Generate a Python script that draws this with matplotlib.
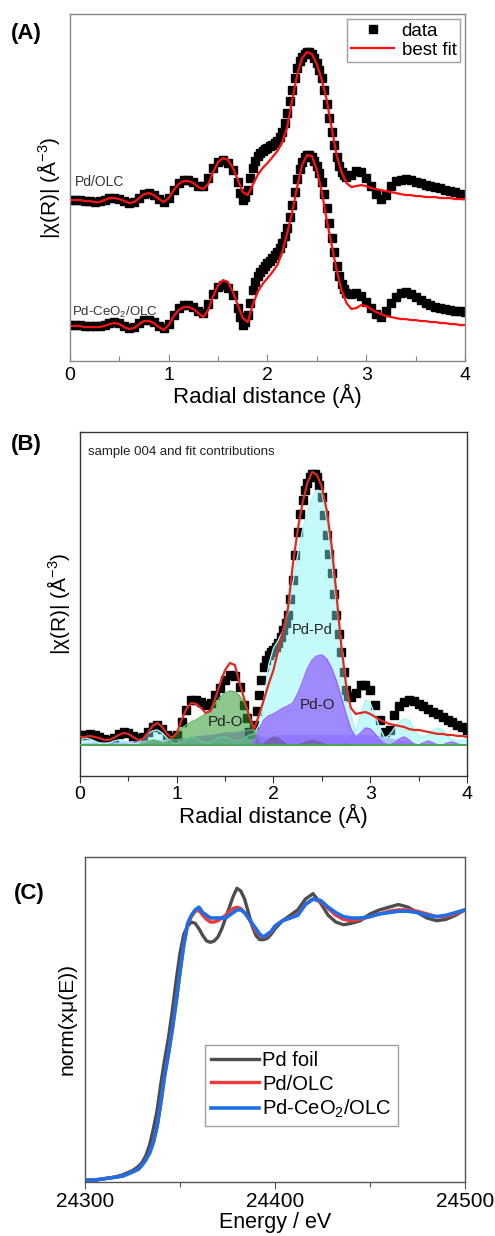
import numpy as np
import matplotlib
matplotlib.use("Agg")
import matplotlib.pyplot as plt

plt.rcParams['font.family'] = ['Liberation Sans', 'DejaVu Sans']
plt.rcParams['mathtext.fontset'] = 'custom'
plt.rcParams['mathtext.rm'] = 'Liberation Sans'
plt.rcParams['mathtext.it'] = 'Liberation Sans:italic'

# ---------------- data (arbitrary units) ----------------
R = np.round(np.arange(0, 4.001, 0.05), 2)
# the measured points are denser than 0.05; extra readings on the steep part
R_mid = np.round(np.arange(1.725, 2.78, 0.05), 3)

# panel A
olc_data = [1.61, 1.61, 1.61, 1.60, 1.60, 1.59, 1.60, 1.61, 1.63, 1.63,
            1.62, 1.60, 1.58, 1.59, 1.63, 1.67, 1.68, 1.66, 1.62, 1.59,
            1.63, 1.71, 1.78, 1.81, 1.81, 1.79, 1.75, 1.75, 1.83, 1.93,
            1.99, 2.01, 1.98, 1.91, 1.79, 1.61, 1.71, 1.93, 2.05, 2.10,
            2.13, 2.16, 2.20, 2.29, 2.48, 2.71, 2.93, 3.04, 3.09, 3.07,
            2.98, 2.83, 2.57, 2.29, 2.04, 1.89, 1.84, 1.86, 1.90, 1.89,
            1.83, 1.75, 1.67, 1.62, 1.66, 1.75, 1.80, 1.81, 1.82, 1.81,
            1.79, 1.78, 1.76, 1.75, 1.74, 1.73, 1.71, 1.70, 1.69, 1.67,
            1.66]
olc_data_mid = [1.68, 1.64, 1.83, 2.00, 2.08, 2.12, 2.15, 2.18, 2.24, 2.38,
                2.60, 2.83, 3.00, 3.07, 3.09, 3.03, 2.91, 2.71, 2.43, 2.16,
                1.95, 1.86]
olc_fit = [1.61, 1.61, 1.61, 1.60, 1.60, 1.59, 1.59, 1.61, 1.63, 1.63,
           1.62, 1.60, 1.58, 1.59, 1.63, 1.67, 1.68, 1.66, 1.62, 1.59,
           1.63, 1.71, 1.77, 1.80, 1.80, 1.78, 1.74, 1.72, 1.77, 1.89,
           1.99, 2.03, 2.01, 1.93, 1.81, 1.69, 1.66, 1.76, 1.86, 1.93,
           1.98, 2.04, 2.10, 2.19, 2.34, 2.61, 2.86, 3.03, 3.09, 3.07,
           2.97, 2.81, 2.61, 2.33, 2.06, 1.89, 1.78, 1.74, 1.75, 1.76,
           1.75, 1.73, 1.72, 1.71, 1.70, 1.69, 1.68, 1.67, 1.66, 1.66,
           1.65, 1.65, 1.64, 1.64, 1.64, 1.63, 1.63, 1.63, 1.62, 1.62,
           1.62]
ceo2_data = [0.36, 0.36, 0.36, 0.35, 0.35, 0.35, 0.35, 0.36, 0.38, 0.39,
             0.38, 0.35, 0.33, 0.34, 0.38, 0.41, 0.41, 0.39, 0.35, 0.33,
             0.37, 0.46, 0.53, 0.56, 0.56, 0.54, 0.50, 0.48, 0.57, 0.67,
             0.74, 0.76, 0.73, 0.66, 0.53, 0.36, 0.46, 0.71, 0.85, 0.92,
             0.98, 1.03, 1.09, 1.18, 1.33, 1.56, 1.82, 1.99, 2.06, 2.04,
             1.95, 1.79, 1.53, 1.23, 0.95, 0.77, 0.68, 0.67, 0.68, 0.65,
             0.59, 0.53, 0.47, 0.44, 0.50, 0.58, 0.64, 0.68, 0.69, 0.67,
             0.64, 0.61, 0.58, 0.56, 0.54, 0.53, 0.52, 0.51, 0.50, 0.50,
             0.49]
ceo2_data_mid = [0.44, 0.39, 0.58, 0.79, 0.89, 0.95, 1.00, 1.06, 1.13, 1.25,
                 1.44, 1.69, 1.92, 2.04, 2.06, 2.00, 1.88, 1.67, 1.38, 1.09,
                 0.85, 0.72]
ceo2_fit = [0.35, 0.35, 0.35, 0.34, 0.34, 0.34, 0.34, 0.35, 0.37, 0.38,
            0.37, 0.34, 0.32, 0.33, 0.37, 0.40, 0.40, 0.38, 0.34, 0.31,
            0.36, 0.45, 0.51, 0.54, 0.54, 0.52, 0.48, 0.44, 0.51, 0.65,
            0.76, 0.81, 0.79, 0.69, 0.56, 0.43, 0.39, 0.56, 0.69, 0.77,
            0.83, 0.89, 0.96, 1.09, 1.28, 1.49, 1.74, 1.96, 2.06, 2.05,
            1.91, 1.69, 1.41, 1.16, 0.91, 0.71, 0.58, 0.52, 0.53, 0.56,
            0.55, 0.52, 0.49, 0.47, 0.45, 0.44, 0.43, 0.42, 0.42, 0.41,
            0.41, 0.40, 0.40, 0.39, 0.39, 0.38, 0.38, 0.37, 0.37, 0.36,
            0.36]

# panel B (sample 004)
s004_data = [0.41, 0.41, 0.42, 0.41, 0.39, 0.37, 0.36, 0.38, 0.42, 0.44,
             0.43, 0.40, 0.38, 0.39, 0.44, 0.49, 0.51, 0.47, 0.41, 0.39,
             0.41, 0.54, 0.66, 0.76, 0.76, 0.74, 0.71, 0.73, 0.81, 0.88,
             0.96, 1.01, 1.00, 0.89, 0.71, 0.44, 0.51, 0.81, 1.09, 1.21,
             1.26, 1.33, 1.46, 1.61, 1.96, 2.44, 2.76, 2.93, 3.02, 2.99,
             2.79, 2.41, 2.03, 1.61, 1.24, 0.86, 0.79, 0.83, 0.91, 0.91,
             0.86, 0.71, 0.56, 0.44, 0.46, 0.61, 0.70, 0.74, 0.76, 0.75,
             0.72, 0.70, 0.67, 0.64, 0.62, 0.59, 0.56, 0.54, 0.51, 0.49,
             0.46]
s004_data_mid = [0.58, 0.42, 0.65, 0.96, 1.16, 1.24, 1.29, 1.39, 1.53, 1.77,
                 2.21, 2.62, 2.86, 2.99, 3.02, 2.91, 2.61, 2.22, 1.82, 1.42,
                 1.04, 0.80]
s004_fit = [0.39, 0.39, 0.40, 0.39, 0.38, 0.36, 0.36, 0.38, 0.41, 0.43,
            0.42, 0.39, 0.36, 0.37, 0.43, 0.50, 0.53, 0.49, 0.42, 0.38,
            0.43, 0.56, 0.67, 0.73, 0.72, 0.68, 0.63, 0.65, 0.78, 0.93,
            1.06, 1.13, 1.11, 0.93, 0.76, 0.60, 0.47, 0.61, 0.76, 0.92,
            1.06, 1.26, 1.46, 1.68, 2.11, 2.46, 2.73, 2.93, 3.04, 3.01,
            2.89, 2.66, 2.31, 1.83, 1.31, 0.91, 0.68, 0.62, 0.63, 0.64,
            0.62, 0.59, 0.56, 0.54, 0.52, 0.51, 0.50, 0.49, 0.47, 0.46,
            0.46, 0.45, 0.44, 0.43, 0.42, 0.42, 0.41, 0.41, 0.40, 0.40,
            0.39]
base_004 = 0.31
pdpd = [0.36, 0.38, 0.37, 0.35, 0.33, 0.32, 0.33, 0.35, 0.36, 0.35,
        0.33, 0.32, 0.33, 0.37, 0.42, 0.45, 0.46, 0.43, 0.38, 0.34,
        0.32, 0.34, 0.37, 0.39, 0.38, 0.35, 0.33, 0.34, 0.37, 0.39,
        0.39, 0.37, 0.35, 0.35, 0.38, 0.41, 0.42, 0.51, 0.76, 1.11,
        1.28, 1.36, 1.46, 1.64, 1.93, 2.21, 2.46, 2.63, 2.78, 2.86,
        2.84, 2.56, 2.16, 1.71, 1.36, 0.96, 0.61, 0.44, 0.61, 0.76,
        0.73, 0.61, 0.48, 0.38, 0.41, 0.48, 0.54, 0.57, 0.56, 0.48,
        0.41, 0.38, 0.42, 0.46, 0.48, 0.46, 0.40, 0.36, 0.35, 0.36,
        0.36]
pdo_1 = [0.31, 0.31, 0.31, 0.31, 0.31, 0.31, 0.31, 0.31, 0.31, 0.31,
         0.31, 0.31, 0.31, 0.32, 0.34, 0.36, 0.35, 0.33, 0.34, 0.38,
         0.43, 0.48, 0.51, 0.54, 0.56, 0.59, 0.62, 0.66, 0.73, 0.79,
         0.83, 0.85, 0.84, 0.80, 0.73, 0.60, 0.46, 0.34, 0.31, 0.31,
         0.31, 0.31, 0.31, 0.31, 0.31, 0.31, 0.31, 0.31, 0.31, 0.31,
         0.31, 0.31, 0.31, 0.31, 0.31, 0.31, 0.31, 0.31, 0.31, 0.31,
         0.31, 0.31, 0.31, 0.31, 0.31, 0.31, 0.31, 0.31, 0.31, 0.31,
         0.31, 0.31, 0.31, 0.31, 0.31, 0.31, 0.31, 0.31, 0.31, 0.31,
         0.31]
pdo_2 = [0.31, 0.31, 0.31, 0.31, 0.31, 0.31, 0.31, 0.31, 0.31, 0.31,
         0.31, 0.31, 0.31, 0.31, 0.31, 0.31, 0.31, 0.31, 0.31, 0.31,
         0.31, 0.31, 0.31, 0.31, 0.31, 0.31, 0.31, 0.31, 0.31, 0.31,
         0.31, 0.31, 0.31, 0.31, 0.31, 0.31, 0.33, 0.46, 0.56, 0.60,
         0.62, 0.65, 0.68, 0.70, 0.73, 0.82, 0.94, 1.07, 1.16, 1.20,
         1.21, 1.17, 1.08, 0.95, 0.79, 0.62, 0.47, 0.39, 0.43, 0.48,
         0.47, 0.42, 0.36, 0.32, 0.31, 0.33, 0.37, 0.39, 0.36, 0.32,
         0.31, 0.33, 0.35, 0.33, 0.31, 0.31, 0.33, 0.34, 0.32, 0.31,
         0.31]
pdo_wide = [0.31, 0.32, 0.32, 0.33, 0.33, 0.33, 0.33, 0.33, 0.33, 0.33,
            0.34, 0.34, 0.34, 0.34, 0.35, 0.35, 0.35, 0.35, 0.36, 0.36,
            0.36, 0.37, 0.37, 0.38, 0.39, 0.39, 0.40, 0.40, 0.41, 0.42,
            0.43, 0.43, 0.43, 0.44, 0.45, 0.46, 0.46, 0.40, 0.38, 0.38,
            0.39, 0.40, 0.40, 0.40, 0.40, 0.40, 0.40, 0.40, 0.40, 0.40,
            0.40, 0.40, 0.40, 0.40, 0.40, 0.40, 0.40, 0.40, 0.40, 0.40,
            0.40, 0.40, 0.39, 0.38, 0.37, 0.36, 0.35, 0.34, 0.33, 0.32,
            0.31, 0.31, 0.31, 0.31, 0.31, 0.31, 0.31, 0.31, 0.31, 0.31,
            0.31]
pd_c = [0.31, 0.31, 0.31, 0.31, 0.31, 0.31, 0.31, 0.31, 0.31, 0.31,
        0.31, 0.31, 0.31, 0.31, 0.31, 0.31, 0.31, 0.31, 0.31, 0.31,
        0.31, 0.31, 0.31, 0.31, 0.31, 0.31, 0.31, 0.31, 0.31, 0.31,
        0.31, 0.31, 0.31, 0.31, 0.31, 0.31, 0.31, 0.31, 0.34, 0.38,
        0.40, 0.39, 0.35, 0.32, 0.31, 0.32, 0.34, 0.36, 0.37, 0.36,
        0.34, 0.32, 0.31, 0.31, 0.32, 0.33, 0.32, 0.31, 0.31, 0.31,
        0.31, 0.31, 0.31, 0.31, 0.31, 0.31, 0.31, 0.31, 0.31, 0.31,
        0.31, 0.31, 0.31, 0.31, 0.31, 0.31, 0.31, 0.31, 0.31, 0.31,
        0.31]

# panel C (XANES)
energy = [24300, 24305, 24310, 24315, 24320, 24325, 24328,
          24330, 24332, 24334, 24336, 24338, 24340, 24342, 24344, 24346, 24348,
          24350, 24352, 24354, 24356, 24358, 24360, 24362, 24364, 24366, 24368,
          24370, 24372, 24374, 24376, 24378, 24380, 24382, 24384, 24386, 24388,
          24390, 24392, 24394, 24396, 24398, 24400,
          24404, 24408, 24412, 24416, 24420, 24424, 24428, 24432, 24436, 24440,
          24445, 24450, 24455, 24460, 24465, 24470, 24475, 24480, 24485, 24490,
          24495, 24500]
mu_foil = [0.00, 0.00, 0.005, 0.01, 0.02, 0.035, 0.05,
           0.065, 0.09, 0.13, 0.19, 0.26, 0.36, 0.45, 0.53, 0.63, 0.74,
           0.84, 0.91, 0.94, 0.955, 0.95, 0.93, 0.905, 0.885, 0.88, 0.885,
           0.90, 0.93, 0.97, 1.01, 1.05, 1.08, 1.07, 1.04, 0.99, 0.94,
           0.905, 0.89, 0.89, 0.895, 0.91, 0.93,
           0.96, 0.98, 1.00, 1.04, 1.06, 1.025, 0.98, 0.955, 0.945, 0.95,
           0.96, 0.985, 1.00, 1.01, 1.02, 1.01, 0.99, 0.97, 0.96, 0.965,
           0.98, 1.00]
mu_olc = [0.00, 0.00, 0.005, 0.01, 0.015, 0.03, 0.04,
          0.055, 0.075, 0.10, 0.14, 0.20, 0.29, 0.39, 0.47, 0.56, 0.66,
          0.77, 0.87, 0.945, 0.975, 0.995, 0.998, 0.98, 0.965, 0.955, 0.955,
          0.96, 0.97, 0.98, 0.995, 1.005, 1.01, 1.005, 0.99, 0.97, 0.945,
          0.92, 0.905, 0.90, 0.905, 0.92, 0.94,
          0.96, 0.97, 0.985, 1.02, 1.04, 1.03, 1.005, 0.98, 0.965, 0.96,
          0.965, 0.975, 0.985, 0.995, 1.00, 1.00, 0.995, 0.985, 0.975, 0.975,
          0.985, 1.00]
mu_ceo2 = [0.00, 0.00, 0.005, 0.01, 0.015, 0.03, 0.04,
           0.055, 0.075, 0.10, 0.14, 0.20, 0.29, 0.39, 0.47, 0.56, 0.66,
           0.77, 0.87, 0.95, 0.98, 1.00, 1.01, 0.99, 0.98, 0.97, 0.97,
           0.97, 0.97, 0.97, 0.98, 0.99, 1.00, 1.00, 0.99, 0.97, 0.95,
           0.93, 0.91, 0.90, 0.91, 0.92, 0.94,
           0.96, 0.97, 0.98, 1.02, 1.04, 1.035, 1.01, 0.99, 0.975, 0.97,
           0.97, 0.975, 0.985, 0.99, 0.995, 0.995, 0.99, 0.98, 0.975, 0.98,
           0.99, 1.00]

ylab_r = r'|χ(R)| (Å$^{-3}$)'


def style_axes(ax, spine_color, tdir='out', labelsize=14):
    for s in ax.spines.values():
        s.set_color(spine_color)
        s.set_linewidth(1.0)
    ax.set_yticks([])
    ax.tick_params(axis='x', which='major', direction=tdir, length=5,
                   width=0.8, labelsize=labelsize, color=spine_color, pad=2)
    ax.tick_params(axis='x', which='minor', direction=tdir, length=3.5,
                   width=0.8, color=spine_color)


fig = plt.figure(figsize=(4.95, 12.36), dpi=100)

# ---------------- (A) ----------------
axA = fig.add_axes([0.1414, 0.7079, 0.798, 0.2807])
axA.plot(R, olc_data, 's', color='black', ms=6, label='data')
axA.plot(R_mid, olc_data_mid, 's', color='black', ms=6)
axA.plot(R, olc_fit, '-', color='#ff1010', lw=1.6, label='best fit')
axA.plot(R, ceo2_data, 's', color='black', ms=6)
axA.plot(R_mid, ceo2_data_mid, 's', color='black', ms=6)
axA.plot(R, ceo2_fit, '-', color='#ff1010', lw=1.6)
axA.set_xlim(0, 4)
axA.set_ylim(0, 3.47)
axA.set_xticks([0, 1, 2, 3, 4])
axA.set_xticks([0.5, 1.5, 2.5, 3.5], minor=True)
style_axes(axA, '#888888', tdir='in')
axA.tick_params(axis='x', which='major', pad=4)
axA.set_xlabel('Radial distance (Å)', fontsize=16, labelpad=0)
axA.set_ylabel(ylab_r, fontsize=15, labelpad=6)
axA.text(0.05, 1.79, 'Pd/OLC', fontsize=10, color='#333333', va='center')
axA.text(0.02, 0.49, 'Pd-CeO$_2$/OLC', fontsize=9.5, color='#333333',
         va='center')
legA = axA.legend(loc='upper right', fontsize=13.5, frameon=True,
                  fancybox=False, edgecolor='#888888', borderaxespad=0.25,
                  handlelength=2.3, labelspacing=0.1, borderpad=0.2,
                  handletextpad=0.4)
legA.get_frame().set_linewidth(1.0)

# ---------------- (B) ----------------
axB = fig.add_axes([0.1616, 0.3722, 0.7818, 0.2783])
axB.plot(R, s004_data, 's', color='black', ms=6, zorder=1)
axB.plot(R_mid, s004_data_mid, 's', color='black', ms=6, zorder=1)
axB.fill_between(R, base_004, pdo_wide, color='#8a4dff', alpha=0.55,
                 lw=0, zorder=2)
axB.plot(R, pdo_wide, color='#b79cff', lw=1.0, zorder=2)
axB.fill_between(R, base_004, pdpd, color='#80f4f4', alpha=0.45,
                 lw=0, zorder=2)
axB.plot(R, pdpd, color='#a8f6f6', lw=1.0, zorder=2)
axB.fill_between(R, base_004, pdo_1, color='#2f9a2f', alpha=0.55,
                 lw=0, zorder=3)
axB.plot(R, pdo_1, color='#5cb85c', lw=1.0, zorder=3)
axB.fill_between(R, base_004, pdo_2, color='#8a4dff', alpha=0.65,
                 lw=0, zorder=3)
axB.plot(R, pdo_2, color='#9a66ff', lw=1.0, zorder=3)
axB.fill_between(R, base_004, pd_c, color='#444444', alpha=0.35,
                 lw=0, zorder=3)
axB.axhline(base_004, color='#3fae3f', lw=1.2, zorder=3)
axB.plot(R, s004_fit, '-', color='#e02a20', lw=1.6, zorder=4)
axB.set_xlim(0, 4)
axB.set_ylim(0, 3.44)
axB.set_xticks([0, 1, 2, 3, 4])
axB.set_xticks([0.5, 1.5, 2.5, 3.5], minor=True)
style_axes(axB, '#333333')
axB.set_xlabel('Radial distance (Å)', fontsize=16, labelpad=1)
axB.set_ylabel(ylab_r, fontsize=15, labelpad=6)
axB.text(0.08, 3.24, 'sample 004 and fit contributions', fontsize=9.5,
         color='#222222', va='center')
axB.text(2.40, 1.46, 'Pd-Pd', fontsize=10.5, color='#222222', ha='center',
         va='center', zorder=5)
axB.text(1.50, 0.54, 'Pd-O', fontsize=11, color='#222222', ha='center',
         va='center', zorder=5)
axB.text(2.46, 0.71, 'Pd-O', fontsize=11, color='#222222', ha='center',
         va='center', zorder=5)

# ---------------- (C) ----------------
axC = fig.add_axes([0.1717, 0.0437, 0.7677, 0.263])
axC.plot(energy, mu_foil, color='#4d4d4d', lw=2.4, label='Pd foil')
axC.plot(energy, mu_olc, color='#f03838', lw=2.4, label='Pd/OLC')
axC.plot(energy, mu_ceo2, color='#1e6fe6', lw=2.6,
         label='Pd-CeO$_2$/OLC')
axC.set_xlim(24300, 24500)
axC.set_ylim(-0.007, 1.196)
axC.set_xticks([24300, 24400, 24500])
axC.set_xticks([24350, 24450], minor=True)
style_axes(axC, '#555555', labelsize=15)
axC.set_xlabel('Energy / eV', fontsize=15.5, labelpad=1)
axC.set_ylabel('norm(xμ(E))', fontsize=15, labelpad=6)
legC = axC.legend(loc='upper left', bbox_to_anchor=(0.316, 0.42),
                  fontsize=14.5, frameon=True, fancybox=False,
                  edgecolor='#888888', handlelength=2.4, labelspacing=0.2,
                  borderpad=0.3, handletextpad=0.15, borderaxespad=0)
legC.get_frame().set_linewidth(1.0)

# panel letters
fig.text(0.022, 0.973, '(A)', fontsize=16, fontweight='bold', va='center')
fig.text(0.022, 0.640, '(B)', fontsize=16, fontweight='bold', va='center')
fig.text(0.028, 0.2775, '(C)', fontsize=16, fontweight='bold', va='center')

fig.savefig('out.png', dpi=100)
